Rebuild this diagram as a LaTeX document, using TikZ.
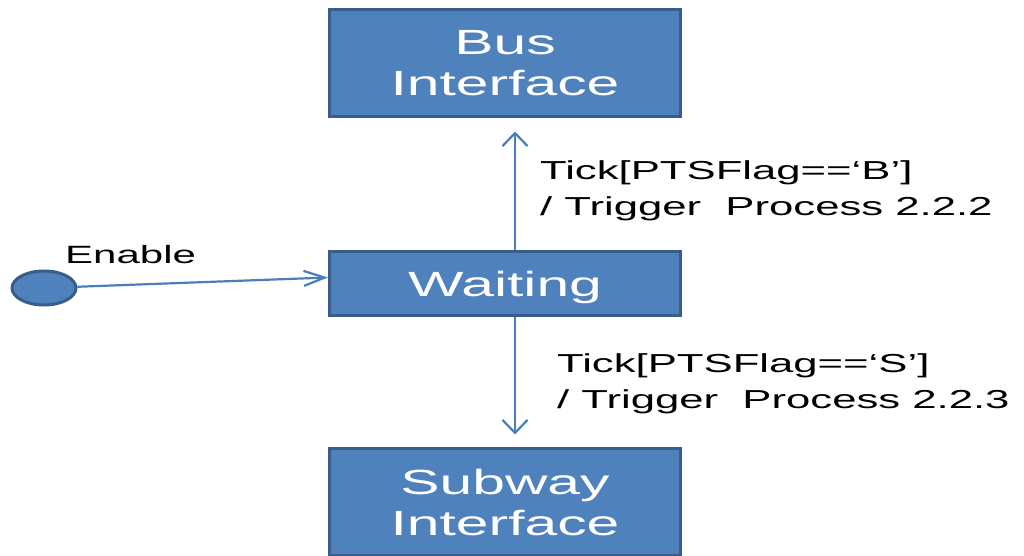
\documentclass[tikz,border=0pt]{standalone}
\usepackage{fontspec}
\setmainfont{Liberation Sans}[FakeStretch=1.68]
\usepackage{tikz}
\usetikzlibrary{positioning, arrows.meta, shapes.geometric}
\definecolor{boxblue}{HTML}{4F81BD}
\definecolor{boxedge}{HTML}{385D8A}
\definecolor{lineblue}{HTML}{4A7EBB}

\begin{document}
\begin{tikzpicture}[x=1pt, y=-1pt,
    state/.style={draw=boxedge, line width=3pt, fill=boxblue, text=white, minimum width=351pt,
        align=center, inner sep=0pt, font=\fontsize{35}{41}\selectfont},
    trans/.style={draw=lineblue, line width=2.2pt, -{Straight Barb[length=13pt, width=25pt]}},
    guard/.style={anchor=north west, align=left, inner sep=0pt, font=\fontsize{26}{36}\selectfont}]
    \useasboundingbox (0,0) rectangle (1024,556);
    \clip (0,0) rectangle (1024,556);

    % states
    \node[state, minimum height=107pt] (bus) at (505,63) {Bus\\Interface};
    \node[state, minimum height=64pt, text depth=0pt] (wait) at (505,283.5) {Waiting};
    \node[state, minimum height=107pt] (sub) at (505,502) {Subway\\Interface};

    % initial state
    \node[ellipse, draw=boxedge, line width=3pt, fill=boxblue, minimum width=64pt,
        minimum height=34pt, inner sep=0pt] (init) at (44,288) {};
    \draw[trans, -{Straight Barb[length=21pt, width=15pt]}] (init) -- ([yshift=6pt]wait.west);
    \node[anchor=base west, inner sep=0pt, font=\fontsize{25}{30}\selectfont] (enable) at (65,263) {Enable};

    % transitions
    \draw[trans, shorten >=13.5pt] ([xshift=10pt]wait.north) -- ([xshift=10pt]bus.south);
    \draw[trans, shorten >=12.5pt] ([xshift=10pt]wait.south) -- ([xshift=10pt]sub.north);

    % guards
    \node[guard] (busguard) at (540,160) {Tick[PTSFlag==‘B’]\\/ Trigger\ \ Process 2.2.2};
    \node[guard] (subguard) at (557,353) {Tick[PTSFlag==‘S’]\\/ Trigger\ \ Process 2.2.3};
\end{tikzpicture}
\end{document}
